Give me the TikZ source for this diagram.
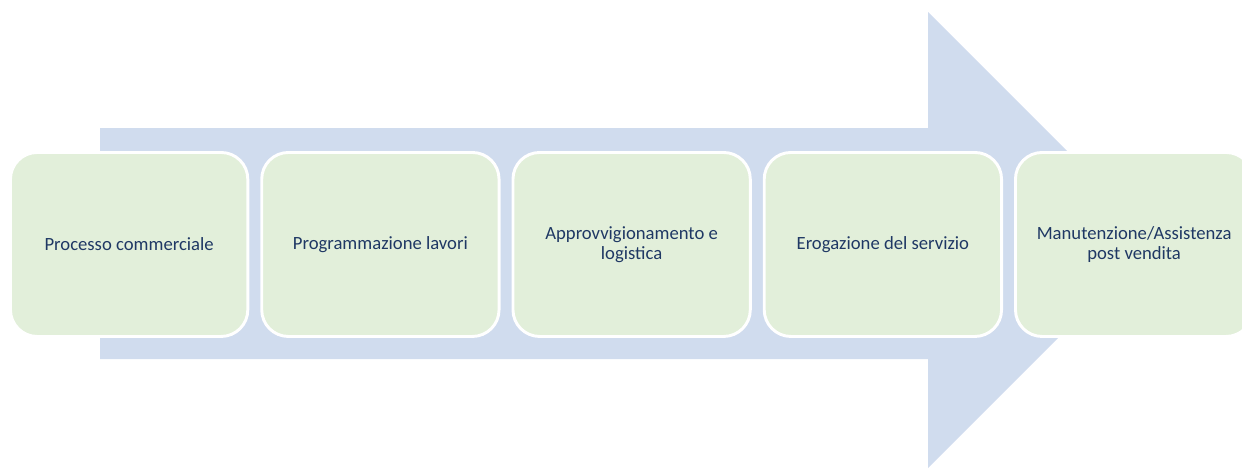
\documentclass[tikz,border=0pt]{standalone}
\usepackage{fontspec}
\setmainfont{Carlito}
\definecolor{arrowblue}{RGB}{208,220,238}
\definecolor{boxgreen}{RGB}{226,239,218}
\definecolor{navytext}{RGB}{31,56,100}
\tikzset{
  stepbox/.style={draw=white, line width=2.2pt, fill=boxgreen, rounded corners=20pt,
    minimum width=178pt, minimum height=138pt, inner sep=0pt, anchor=north west,
    text=navytext, align=center, font=\fontsize{14pt}{15pt}\selectfont},
}
\begin{document}
\begin{tikzpicture}[x=0.75pt,y=-0.75pt]
\useasboundingbox (0,0) rectangle (1242,468);
\begin{scope}
\clip (0,0) rectangle (1242,468);
\fill[arrowblue] (100,128) -- (928,128) -- (928,12) -- (1156,240) -- (928,468) -- (928,359) -- (100,359) -- cycle;
\node[stepbox] (s1) at (9,151) {Processo commerciale};
\node[stepbox] (s2) at (260.25,151) {Programmazione lavori};
\node[stepbox] (s3) at (511.5,151) {Approvvigionamento e\\logistica};
\node[stepbox] (s4) at (762.75,151) {Erogazione del servizio};
\node[stepbox] (s5) at (1014,151) {Manutenzione/Assistenza\\post vendita};
\end{scope}
\end{tikzpicture}
\end{document}
